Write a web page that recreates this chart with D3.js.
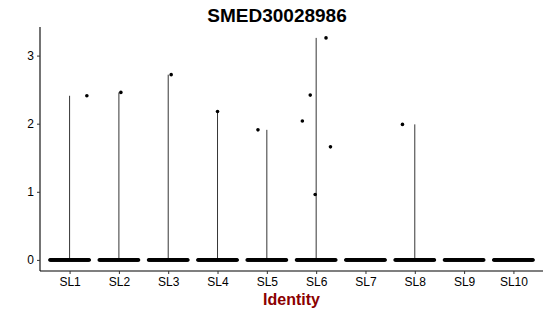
<!DOCTYPE html>
<html lang="en">
<head>
<meta charset="utf-8">
<title>SMED30028986</title>
<script src="https://cdn.jsdelivr.net/npm/d3@7"></script>
<style>
  body { margin: 0; background: #fff; }
  text { font-family: "Liberation Sans", Arial, sans-serif; }
</style>
</head>
<body>
<script>
var w = 550, h = 316;
var margin = {top: 27, right: 7, bottom: 45, left: 40};

// clusters
var categories = ["SL1", "SL2", "SL3", "SL4", "SL5", "SL6", "SL7", "SL8", "SL9", "SL10"];
// highest expression per cluster (top of the violin)
var maxValues = [2.41, 2.46, 2.72, 2.18, 1.91, 3.26, 0, 1.99, 0, 0];
// the non-zero cells: cluster, jitter offset (fraction of band), value
var pointCluster = ["SL1", "SL2", "SL3", "SL4", "SL5", "SL6", "SL6", "SL6", "SL6", "SL6", "SL8"];
var pointJitter  = [0.35, 0.04, 0.06, 0.0, -0.18, -0.28, -0.12, -0.02, 0.2, 0.29, -0.25];
var pointValues  = [2.41, 2.46, 2.72, 2.18, 1.91, 2.04, 2.42, 0.96, 3.26, 1.66, 1.99];
var yTicks = [0, 1, 2, 3];

var svg = d3.select("body").append("svg")
  .attr("width", w)
  .attr("height", h);

var x = d3.scalePoint()
  .domain(categories)
  .range([margin.left, w - margin.right])
  .padding(0.6);
var step = x.step();

var y = d3.scaleLinear()
  .domain([-0.163, 3.42])
  .range([h - margin.bottom, margin.top]);

// violins collapse to a thin line since nearly every cell is 0
svg.selectAll("line.violin")
  .data(categories.filter(function(d, i) { return maxValues[i] > 0; }))
  .enter()
  .append("line")
  .attr("class", "violin")
  .attr("x1", function(d) { return x(d); })
  .attr("x2", function(d) { return x(d); })
  .attr("y1", y(0))
  .attr("y2", function(d) { return y(maxValues[categories.indexOf(d)]); })
  .attr("stroke", "#000")
  .attr("stroke-width", 0.8);

// zero cells, jittered across the band
var zeroOffsets = d3.range(-0.4, 0.4001, 0.008);
categories.forEach(function(c) {
  svg.append("g").selectAll("circle")
    .data(zeroOffsets)
    .enter()
    .append("circle")
    .attr("cx", function(d) { return x(c) + d * step; })
    .attr("cy", y(0))
    .attr("r", 1.7)
    .attr("fill", "#000");
});

svg.selectAll("circle.pt")
  .data(pointValues)
  .enter()
  .append("circle")
  .attr("class", "pt")
  .attr("cx", function(d, i) { return x(pointCluster[i]) + pointJitter[i] * step; })
  .attr("cy", function(d) { return y(d); })
  .attr("r", 1.8)
  .attr("fill", "#000");

// axes
var yAxis = svg.append("g")
  .attr("transform", "translate(" + margin.left + ",0)")
  .call(d3.axisLeft(y).tickValues(yTicks).tickSize(3).tickPadding(3).tickFormat(d3.format("d")));
var xAxis = svg.append("g")
  .attr("transform", "translate(0," + (h - margin.bottom) + ")")
  .call(d3.axisBottom(x).tickSize(3).tickPadding(3));

[yAxis, xAxis].forEach(function(a) {
  a.select(".domain").attr("stroke", "#000").attr("stroke-width", 1.1);
  a.selectAll(".tick line").attr("stroke", "#333");
  a.selectAll(".tick text")
    .attr("font-size", "12px")
    .attr("font-family", "Liberation Sans, Arial, sans-serif")
    .attr("fill", "#000");
});
xAxis.select(".domain").attr("d", "M" + margin.left + ",0H" + (w - margin.right));
yAxis.select(".domain").attr("d", "M0," + margin.top + "V" + (h - margin.bottom));

svg.append("text")
  .attr("x", 277)
  .attr("y", 22)
  .attr("text-anchor", "middle")
  .attr("font-size", "19px")
  .attr("font-weight", "bold")
  .text("SMED30028986");

svg.append("text")
  .attr("x", (margin.left + w - margin.right) / 2)
  .attr("y", 305)
  .attr("text-anchor", "middle")
  .attr("font-size", "16px")
  .attr("font-weight", "bold")
  .attr("fill", "#8b0000")
  .text("Identity");
</script>
</body>
</html>
